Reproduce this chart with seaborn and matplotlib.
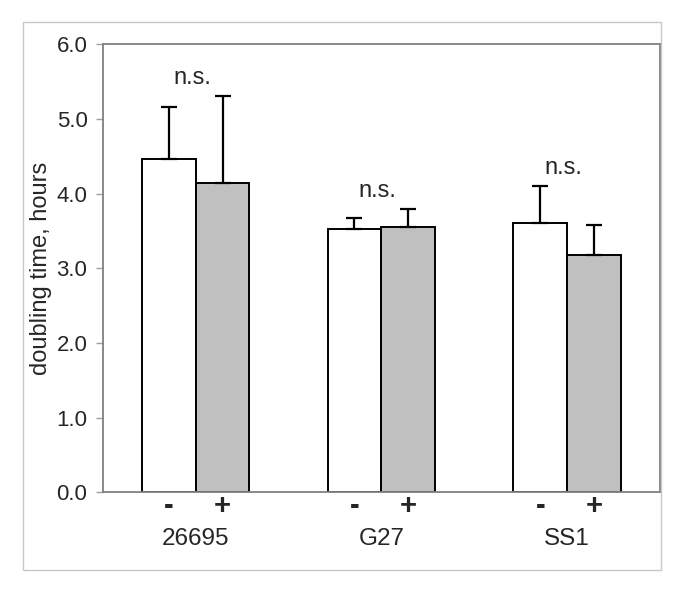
import pandas as pd
import seaborn as sns
import matplotlib.pyplot as plt
from matplotlib.patches import Rectangle


STRAINS = ["26695", "G27", "SS1"]
TREATMENTS = ["-", "+"]
MINUS_MEAN = [4.46, 3.53, 3.61]
PLUS_MEAN = [4.14, 3.55, 3.17]
MINUS_ERR = [0.70, 0.14, 0.49]
PLUS_ERR = [1.17, 0.24, 0.41]
SIGNIF = ["n.s.", "n.s.", "n.s."]


def make_frame():
    rows = []
    for i, strain in enumerate(STRAINS):
        rows.append({"strain": strain, "treatment": "-", "time": MINUS_MEAN[i], "err": MINUS_ERR[i]})
        rows.append({"strain": strain, "treatment": "+", "time": PLUS_MEAN[i], "err": PLUS_ERR[i]})
    return pd.DataFrame(rows)


def make_chart(df):
    sns.set_style("white")
    plt.rcParams["font.family"] = ["Liberation Sans", "DejaVu Sans"]

    fig = plt.figure(figsize=(6.85, 5.93), dpi=100)
    ax = fig.add_axes([0.150, 0.170, 0.8135, 0.7555])

    # outer light frame round the whole chart
    fig.patches.append(Rectangle((0.0336, 0.0388), 0.931, 0.9242, transform=fig.transFigure,
                                 fill=False, edgecolor="#c8c8c8", linewidth=1.0))

    sns.barplot(data=df, x="strain", y="time", hue="treatment", order=STRAINS,
                hue_order=TREATMENTS, palette=["white", "#c0c0c0"], width=0.58,
                edgecolor="black", linewidth=1.4, errorbar=None, legend=False, ax=ax)

    # upward-only error bars on the bars seaborn drew
    centers = []
    for j, t in enumerate(TREATMENTS):
        sub = df[df["treatment"] == t].set_index("strain").loc[STRAINS]
        for i, patch in enumerate(ax.containers[j]):
            xc = patch.get_x() + patch.get_width() / 2
            h = patch.get_height()
            e = sub["err"].iloc[i]
            ax.errorbar(xc, h, yerr=[[0], [e]], fmt="none", ecolor="black",
                        elinewidth=1.6, capsize=5.5, capthick=1.6, zorder=1)
            centers.append((xc, t))

    # n.s. above each pair
    for i, strain in enumerate(STRAINS):
        top = max(MINUS_MEAN[i] + MINUS_ERR[i], PLUS_MEAN[i] + PLUS_ERR[i])
        ax.text(i - 0.02, top + 0.24, SIGNIF[i], ha="center", va="center", fontsize=17)

    ax.set_ylim(0, 6)
    ax.set_xlim(-0.5, 2.5)
    ax.set_yticks([0, 1, 2, 3, 4, 5, 6])
    ax.set_yticklabels([f"{v:.1f}" for v in range(7)], fontsize=16)
    ax.tick_params(axis="y", length=5, color="#a0a0a0", width=1, pad=6, left=True)

    # strain names as major ticks, -/+ as minor ticks under each bar
    ax.set_xticks(range(len(STRAINS)))
    ax.set_xticklabels(STRAINS, fontsize=17.5)
    ax.set_xticks([c[0] for c in centers], minor=True)
    ax.set_xticklabels([c[1] for c in centers], minor=True, fontsize=21, fontweight="bold")
    ax.tick_params(axis="x", which="major", length=0, pad=26)
    ax.tick_params(axis="x", which="minor", length=0, pad=0)

    ax.set_xlabel("")
    ax.set_ylabel("doubling time, hours", fontsize=17, labelpad=3)

    for side in ["left", "right", "top", "bottom"]:
        ax.spines[side].set_visible(True)
        ax.spines[side].set_color("#808080")
        ax.spines[side].set_linewidth(1.3)

    fig.savefig("out.png", dpi=100)


if __name__ == "__main__":
    df = make_frame()
    make_chart(df)
